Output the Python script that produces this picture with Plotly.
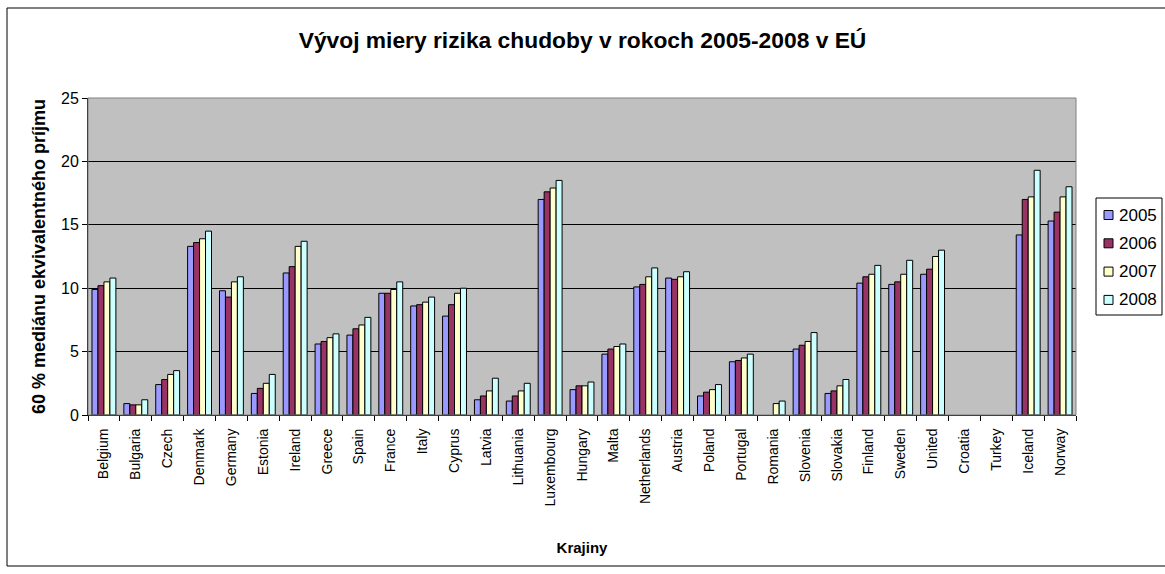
import plotly.graph_objects as go

krajiny = ["Belgium", "Bulgaria", "Czech", "Denmark", "Germany", "Estonia", "Ireland",
           "Greece", "Spain", "France", "Italy", "Cyprus", "Latvia", "Lithuania",
           "Luxembourg", "Hungary", "Malta", "Netherlands", "Austria", "Poland",
           "Portugal", "Romania", "Slovenia", "Slovakia", "Finland", "Sweden",
           "United", "Croatia", "Turkey", "Iceland", "Norway"]

r2005 = [9.9, 0.9, 2.4, 13.3, 9.8, 1.7, 11.2, 5.6, 6.3, 9.6, 8.6, 7.8, 1.2, 1.1,
         17.0, 2.0, 4.8, 10.1, 10.8, 1.5, 4.2, None, 5.2, 1.7, 10.4, 10.3,
         11.1, None, None, 14.2, 15.3]
r2006 = [10.2, 0.8, 2.8, 13.6, 9.3, 2.1, 11.7, 5.8, 6.8, 9.6, 8.7, 8.7, 1.5, 1.5,
         17.6, 2.3, 5.2, 10.3, 10.7, 1.8, 4.3, None, 5.5, 1.9, 10.9, 10.5,
         11.5, None, None, 17.0, 16.0]
r2007 = [10.5, 0.8, 3.2, 13.9, 10.5, 2.5, 13.3, 6.1, 7.1, 9.9, 8.9, 9.6, 1.9, 1.9,
         17.9, 2.3, 5.4, 10.9, 10.9, 2.0, 4.5, 0.9, 5.8, 2.3, 11.1, 11.1,
         12.5, None, None, 17.2, 17.2]
r2008 = [10.8, 1.2, 3.5, 14.5, 10.9, 3.2, 13.7, 6.4, 7.7, 10.5, 9.3, 10.0, 2.9, 2.5,
         18.5, 2.6, 5.6, 11.6, 11.3, 2.4, 4.8, 1.1, 6.5, 2.8, 11.8, 12.2,
         13.0, None, None, 19.3, 18.0]

roky = ["2005", "2006", "2007", "2008"]
farby = ["#9999FF", "#993366", "#FFFFCC", "#CCFFFF"]

W, H = 1165, 574
L, R, T, B = 88, 89, 98, 159


# pixel -> paper suradnice (pre dekoracie)
def px(x):
    return (x - L) / (W - L - R)


def py(y):
    return (H - B - y) / (H - T - B)


fig = go.Figure()
for rok, hodnoty, farba in zip(roky, [r2005, r2006, r2007, r2008], farby):
    fig.add_trace(go.Bar(
        x=krajiny, y=hodnoty, name=rok,
        marker=dict(color=farba, line=dict(color="black", width=1)),
    ))

fig.update_layout(
    width=W, height=H,
    margin=dict(l=L, r=R, t=T, b=B, autoexpand=False),
    paper_bgcolor="white",
    plot_bgcolor="#C0C0C0",
    barmode="group", bargap=0.25, bargroupgap=0,
    font=dict(family="Liberation Sans, Arial", size=15, color="black"),
    title=dict(text="<b>Vývoj miery rizika chudoby v rokoch 2005-2008 v EÚ</b>",
               x=0.5, xref="container", y=1 - 40 / H, yref="container",
               xanchor="center", yanchor="middle",
               font=dict(size=22.8)),
    showlegend=False,
)

fig.update_xaxes(
    title=dict(text="<b>Krajiny</b>", font=dict(size=15), standoff=37),
    tickangle=-90, tickfont=dict(size=14), automargin=False,
    ticklabelstandoff=7,
    showline=True, linecolor="black", linewidth=1,
    ticks="outside", ticklen=5, tickcolor="black", tickson="boundaries",
    showgrid=False,
)
fig.update_yaxes(
    title=dict(text="<b>60 % mediánu ekvivalentného príjmu</b>", font=dict(size=18), standoff=10),
    range=[0, 25], dtick=5, tickfont=dict(size=16), automargin=False,
    showline=True, linecolor="black", linewidth=1,
    ticks="outside", ticklen=5, tickcolor="black",
    showgrid=True, gridcolor="black", gridwidth=1,
    zeroline=False,
)

# vonkajsi ramcek grafu
fig.add_shape(type="rect", xref="paper", yref="paper",
              x0=px(7), x1=px(1175), y0=py(566), y1=py(8),
              line=dict(color="black", width=1), fillcolor="rgba(0,0,0,0)", layer="below")
# horny okraj plochy grafu
fig.add_shape(type="rect", xref="paper", yref="paper",
              x0=0, x1=1, y0=0, y1=1,
              line=dict(color="#808080", width=1), fillcolor="rgba(0,0,0,0)")

# legenda (ramcek, stvorceky, texty)
fig.add_shape(type="rect", xref="paper", yref="paper",
              x0=px(1096), x1=px(1162), y0=py(315), y1=py(198),
              line=dict(color="black", width=1), fillcolor="white")
for i, (rok, farba) in enumerate(zip(roky, farby)):
    yc = 215 + i * 28.3
    fig.add_shape(type="rect", xref="paper", yref="paper",
                  x0=px(1104), x1=px(1113), y0=py(yc + 4.5), y1=py(yc - 4.5),
                  line=dict(color="black", width=1), fillcolor=farba)
    fig.add_annotation(text=rok, xref="paper", yref="paper",
                       x=px(1117), y=py(yc), xanchor="left", yanchor="middle",
                       showarrow=False, font=dict(size=17))

fig.write_html("out.html", config={"displayModeBar": False},
               post_script="document.body.style.margin='0';")
